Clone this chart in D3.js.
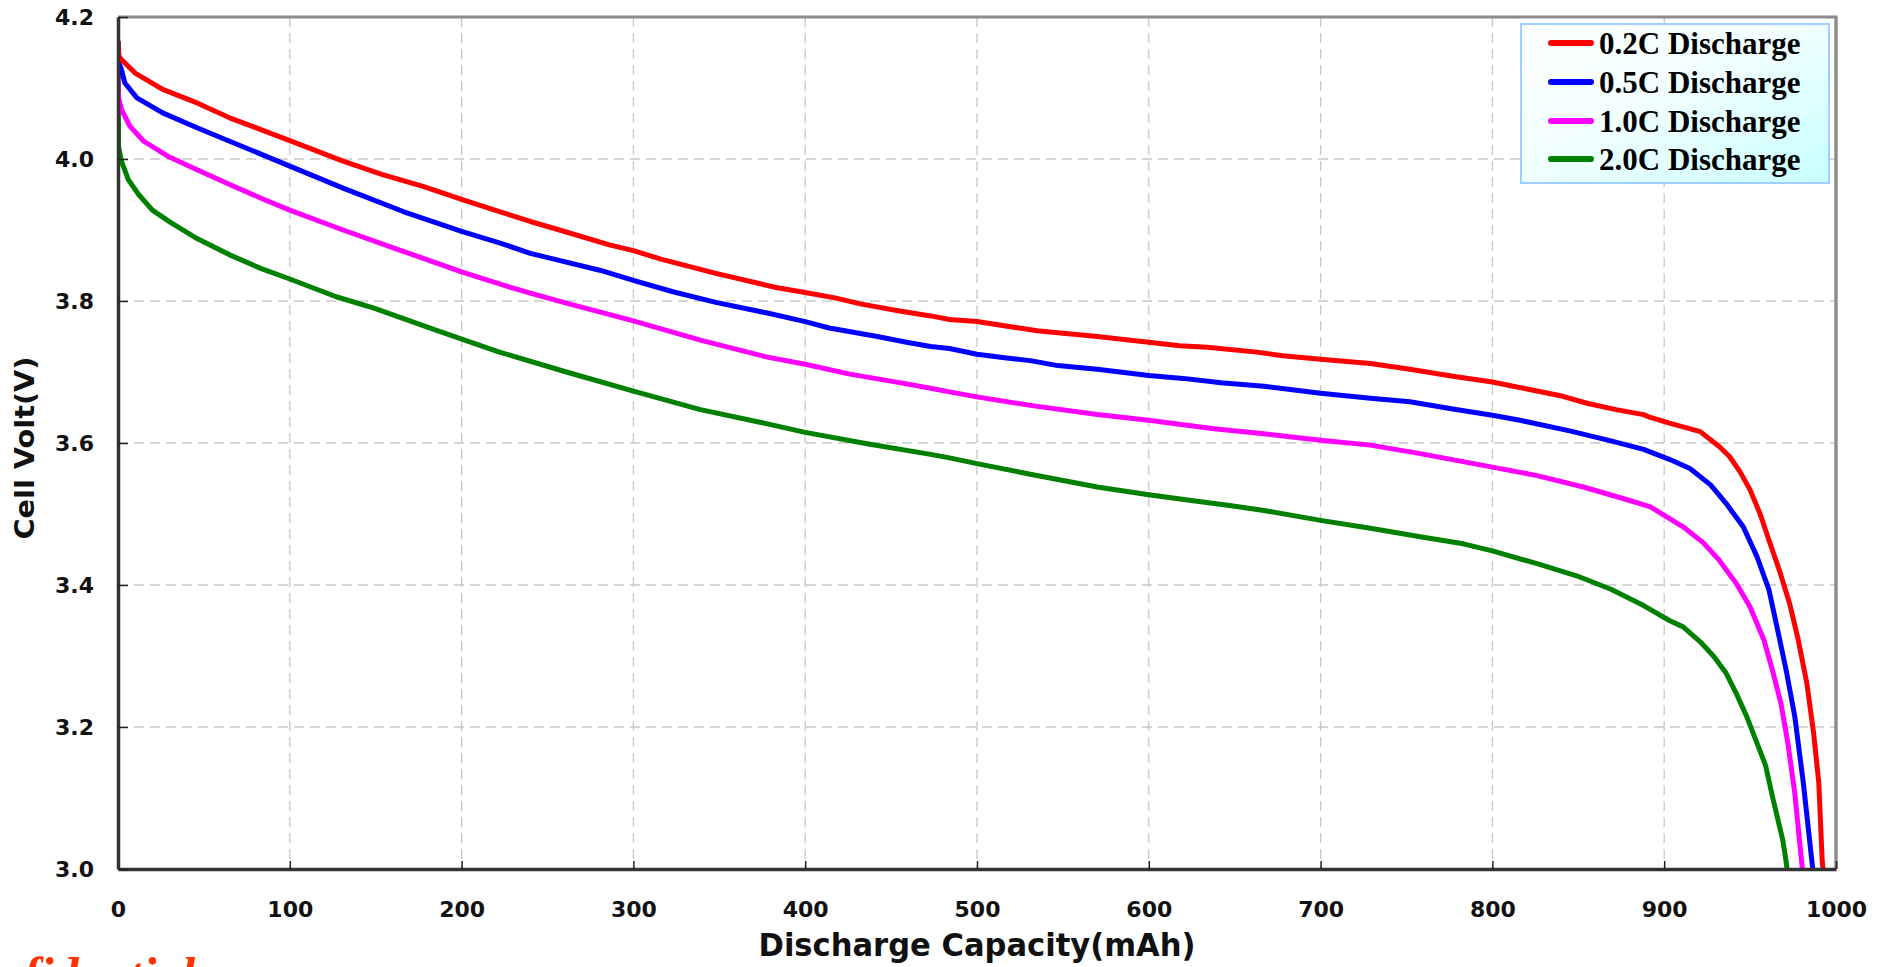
<!DOCTYPE html>
<html>
<head>
<meta charset="utf-8">
<script src="https://cdn.jsdelivr.net/npm/d3@7"></script>
<style>
  html, body { margin: 0; padding: 0; background: #ffffff; }
  svg { display: block; }
</style>
</head>
<body>
<svg id="chart" width="1891" height="967"></svg>
<script>
// ---------- data ----------
const seriesNames = ["0.2C Discharge", "0.5C Discharge", "1.0C Discharge", "2.0C Discharge"];
const seriesColors = ["#ff0000", "#0000ff", "#ff00ff", "#008000"];

const cap02 = [0,0.5,2,10,26,46,65,100,131,154,178,200,222,240,257,286,300,316,348,383,400,418,432,455,473,484,500,535,570,600,618,634,663,678,700,729,752,777,800,810,839,855,872,888,892,903,921,932,938,944,950,956,961,967,973,978,983,987,990,992,992.5];
const volt02 = [4.166,4.145,4.140,4.121,4.098,4.079,4.058,4.026,3.997,3.978,3.961,3.943,3.926,3.912,3.900,3.879,3.871,3.859,3.839,3.819,3.812,3.804,3.796,3.786,3.779,3.774,3.771,3.758,3.750,3.742,3.737,3.735,3.728,3.723,3.718,3.712,3.704,3.694,3.686,3.681,3.667,3.656,3.647,3.640,3.636,3.628,3.616,3.595,3.581,3.560,3.534,3.499,3.463,3.421,3.374,3.323,3.262,3.191,3.121,3.010,3.0];

const cap05 = [0,0.5,2,4,11,26,46,65,100,131,166,200,222,240,252,281,300,323,348,378,400,414,442,459,473,484,500,516,531,547,570,600,620,642,667,700,729,752,777,800,816,845,869,888,903,915,927,936,946,954,961,966,971,976,981,986,986.5];
const volt05 = [4.166,4.135,4.126,4.107,4.086,4.065,4.044,4.025,3.990,3.959,3.926,3.898,3.882,3.867,3.860,3.843,3.829,3.813,3.798,3.783,3.771,3.762,3.750,3.742,3.736,3.733,3.725,3.720,3.716,3.709,3.704,3.695,3.691,3.685,3.680,3.670,3.663,3.658,3.648,3.639,3.632,3.617,3.603,3.591,3.577,3.564,3.541,3.515,3.482,3.440,3.393,3.337,3.280,3.215,3.121,3.010,3.0];

const cap10 = [0,0.3,2,7,15,29,46,65,85,100,131,166,200,222,240,261,300,339,378,400,426,455,473,484,500,531,570,600,638,667,700,729,758,800,826,853,880,892,911,923,932,942,950,958,963,968,972,976,980,980.5];
const volt10 = [4.166,4.086,4.070,4.046,4.025,4.004,3.985,3.964,3.943,3.928,3.900,3.870,3.841,3.824,3.811,3.797,3.772,3.745,3.721,3.711,3.697,3.685,3.677,3.672,3.665,3.653,3.640,3.632,3.620,3.613,3.604,3.597,3.585,3.566,3.554,3.538,3.519,3.510,3.482,3.459,3.435,3.402,3.369,3.323,3.280,3.233,3.177,3.107,3.010,3.0];

const cap20 = [0,0.3,2,6,12,20,31,46,65,83,100,127,149,185,222,261,300,339,378,400,436,473,484,500,531,570,600,628,647,667,700,729,758,783,800,826,849,869,888,903,911,921,929,936,942,948,959,963,969,971,971.5];
const volt20 = [4.166,4.018,3.997,3.971,3.950,3.928,3.910,3.888,3.865,3.846,3.831,3.806,3.790,3.759,3.728,3.700,3.673,3.647,3.627,3.615,3.599,3.584,3.579,3.571,3.556,3.538,3.527,3.518,3.512,3.505,3.491,3.480,3.468,3.458,3.448,3.430,3.413,3.394,3.371,3.350,3.341,3.320,3.299,3.276,3.247,3.215,3.146,3.102,3.041,3.010,3.0];

const xTicks = [0,100,200,300,400,500,600,700,800,900,1000];
const yTicks = [3.0,3.2,3.4,3.6,3.8,4.0,4.2];
const xTitle = "Discharge Capacity(mAh)";
const yTitle = "Cell Volt(V)";
const footText = "fidential";

// ---------- layout ----------
const svg = d3.select("#chart");
const W = 1891, H = 967;
const plot = { left: 118, right: 1836, top: 17, bottom: 869 };

svg.append("rect").attr("width", W).attr("height", H).attr("fill", "#ffffff");

const x = d3.scaleLinear().domain([0, 1000]).range([plot.left, plot.right]);
const y = d3.scaleLinear().domain([3.0, 4.2]).range([plot.bottom, plot.top]);

// grid
const grid = svg.append("g");
grid.selectAll("line.vx").data(xTicks.filter(t => t > 0 && t < 1000)).join("line")
  .attr("x1", d => x(d)).attr("x2", d => x(d))
  .attr("y1", plot.top).attr("y2", plot.bottom)
  .attr("stroke", "#c8c8c8").attr("stroke-width", 1.3).attr("stroke-dasharray", "10,6");
grid.selectAll("line.hy").data(yTicks.filter(t => t > 3.0 && t < 4.2)).join("line")
  .attr("x1", plot.left).attr("x2", plot.right)
  .attr("y1", d => y(d)).attr("y2", d => y(d))
  .attr("stroke", "#c8c8c8").attr("stroke-width", 1.3).attr("stroke-dasharray", "10,6");

// top & right frame
svg.append("line").attr("x1", plot.left).attr("x2", plot.right + 1.5)
  .attr("y1", plot.top).attr("y2", plot.top)
  .attr("stroke", "#8c8c8c").attr("stroke-width", 3);
svg.append("line").attr("x1", plot.right).attr("x2", plot.right)
  .attr("y1", plot.top).attr("y2", plot.bottom)
  .attr("stroke", "#8c8c8c").attr("stroke-width", 3.5);

// clip
svg.append("defs").append("clipPath").attr("id", "plotclip")
  .append("rect").attr("x", plot.left).attr("y", plot.top - 2)
  .attr("width", plot.right - plot.left).attr("height", plot.bottom - plot.top + 2);

// curves
const series = [
  { cap: cap02, volt: volt02 },
  { cap: cap05, volt: volt05 },
  { cap: cap10, volt: volt10 },
  { cap: cap20, volt: volt20 }
];
const line = d3.line().x(d => x(d[0])).y(d => y(d[1])).curve(d3.curveLinear);
const curves = svg.append("g").attr("clip-path", "url(#plotclip)");
for (let i = series.length - 1; i >= 0; i--) {
  const pts = series[i].cap.map((c, k) => [c, series[i].volt[k]]);
  curves.append("path").datum(pts)
    .attr("d", line)
    .attr("fill", "none")
    .attr("stroke", seriesColors[i])
    .attr("stroke-width", 5)
    .attr("stroke-linejoin", "round");
}

// axes
const tickFont = "'DejaVu Sans', Verdana, sans-serif";
const xAxis = svg.append("g").attr("transform", `translate(0,${plot.bottom})`)
  .call(d3.axisBottom(x).tickValues(xTicks).tickFormat(d3.format("d")).tickSize(-8).tickSizeOuter(0));
xAxis.select(".domain").attr("stroke", "#333").attr("stroke-width", 3.5);
xAxis.selectAll(".tick line").attr("stroke", "#222").attr("stroke-width", 1.5);
xAxis.selectAll(".tick text")
  .attr("y", 48).attr("dy", 0)
  .attr("font-family", tickFont).attr("font-weight", "bold").attr("font-size", 22).attr("fill", "#111");

const yAxis = svg.append("g").attr("transform", `translate(${plot.left},0)`)
  .call(d3.axisLeft(y).tickValues(yTicks).tickFormat(d3.format(".1f")).tickSize(-10).tickSizeOuter(0));
yAxis.select(".domain").attr("stroke", "#333").attr("stroke-width", 3.5);
yAxis.selectAll(".tick line").attr("stroke", "#222").attr("stroke-width", 1.5);
yAxis.selectAll(".tick text")
  .attr("x", -24).attr("dy", "0.36em")
  .attr("font-family", tickFont).attr("font-weight", "bold").attr("font-size", 22).attr("fill", "#111");

// axis titles
svg.append("text")
  .attr("x", (plot.left + plot.right) / 2).attr("y", 956)
  .attr("text-anchor", "middle")
  .attr("font-family", tickFont).attr("font-weight", "bold").attr("font-size", 32)
  .attr("textLength", 437).attr("lengthAdjust", "spacingAndGlyphs")
  .attr("fill", "#111")
  .text(xTitle);

svg.append("text")
  .attr("transform", "translate(34,448) rotate(-90)")
  .attr("text-anchor", "middle")
  .attr("font-family", tickFont).attr("font-weight", "bold").attr("font-size", 27)
  .attr("textLength", 183).attr("lengthAdjust", "spacingAndGlyphs")
  .attr("fill", "#111")
  .text(yTitle);

// legend
const defs = svg.select("defs");
const grad = defs.append("linearGradient").attr("id", "legGrad")
  .attr("x1", "0").attr("y1", "0").attr("x2", "1").attr("y2", "1");
grad.append("stop").attr("offset", "0%").attr("stop-color", "#ffffff");
grad.append("stop").attr("offset", "45%").attr("stop-color", "#f2ffff");
grad.append("stop").attr("offset", "100%").attr("stop-color", "#c8ffff");

const leg = svg.append("g");
leg.append("rect").attr("x", 1521).attr("y", 24).attr("width", 308).attr("height", 159)
  .attr("fill", "url(#legGrad)").attr("stroke", "#9fcfff").attr("stroke-width", 2);
const rowY = [43, 82, 121, 159];
seriesNames.forEach((name, i) => {
  leg.append("line").attr("x1", 1551).attr("x2", 1591)
    .attr("y1", rowY[i]).attr("y2", rowY[i])
    .attr("stroke", seriesColors[i]).attr("stroke-width", 6).attr("stroke-linecap", "round");
  leg.append("text").attr("x", 1599).attr("y", rowY[i] + 11)
    .attr("font-family", "'Liberation Serif', 'Times New Roman', serif")
    .attr("font-weight", "bold").attr("font-size", 31).attr("fill", "#000")
    .text(name);
});

// partially visible footer text (cut by the picture's bottom edge, as in the reference)
svg.append("text")
  .attr("x", 23).attr("y", 992)
  .attr("font-family", "'Liberation Serif', 'Times New Roman', serif")
  .attr("font-style", "italic").attr("font-weight", "bold").attr("font-size", 50)
  .attr("fill", "#ff3300")
  .text(footText);
</script>
</body>
</html>
